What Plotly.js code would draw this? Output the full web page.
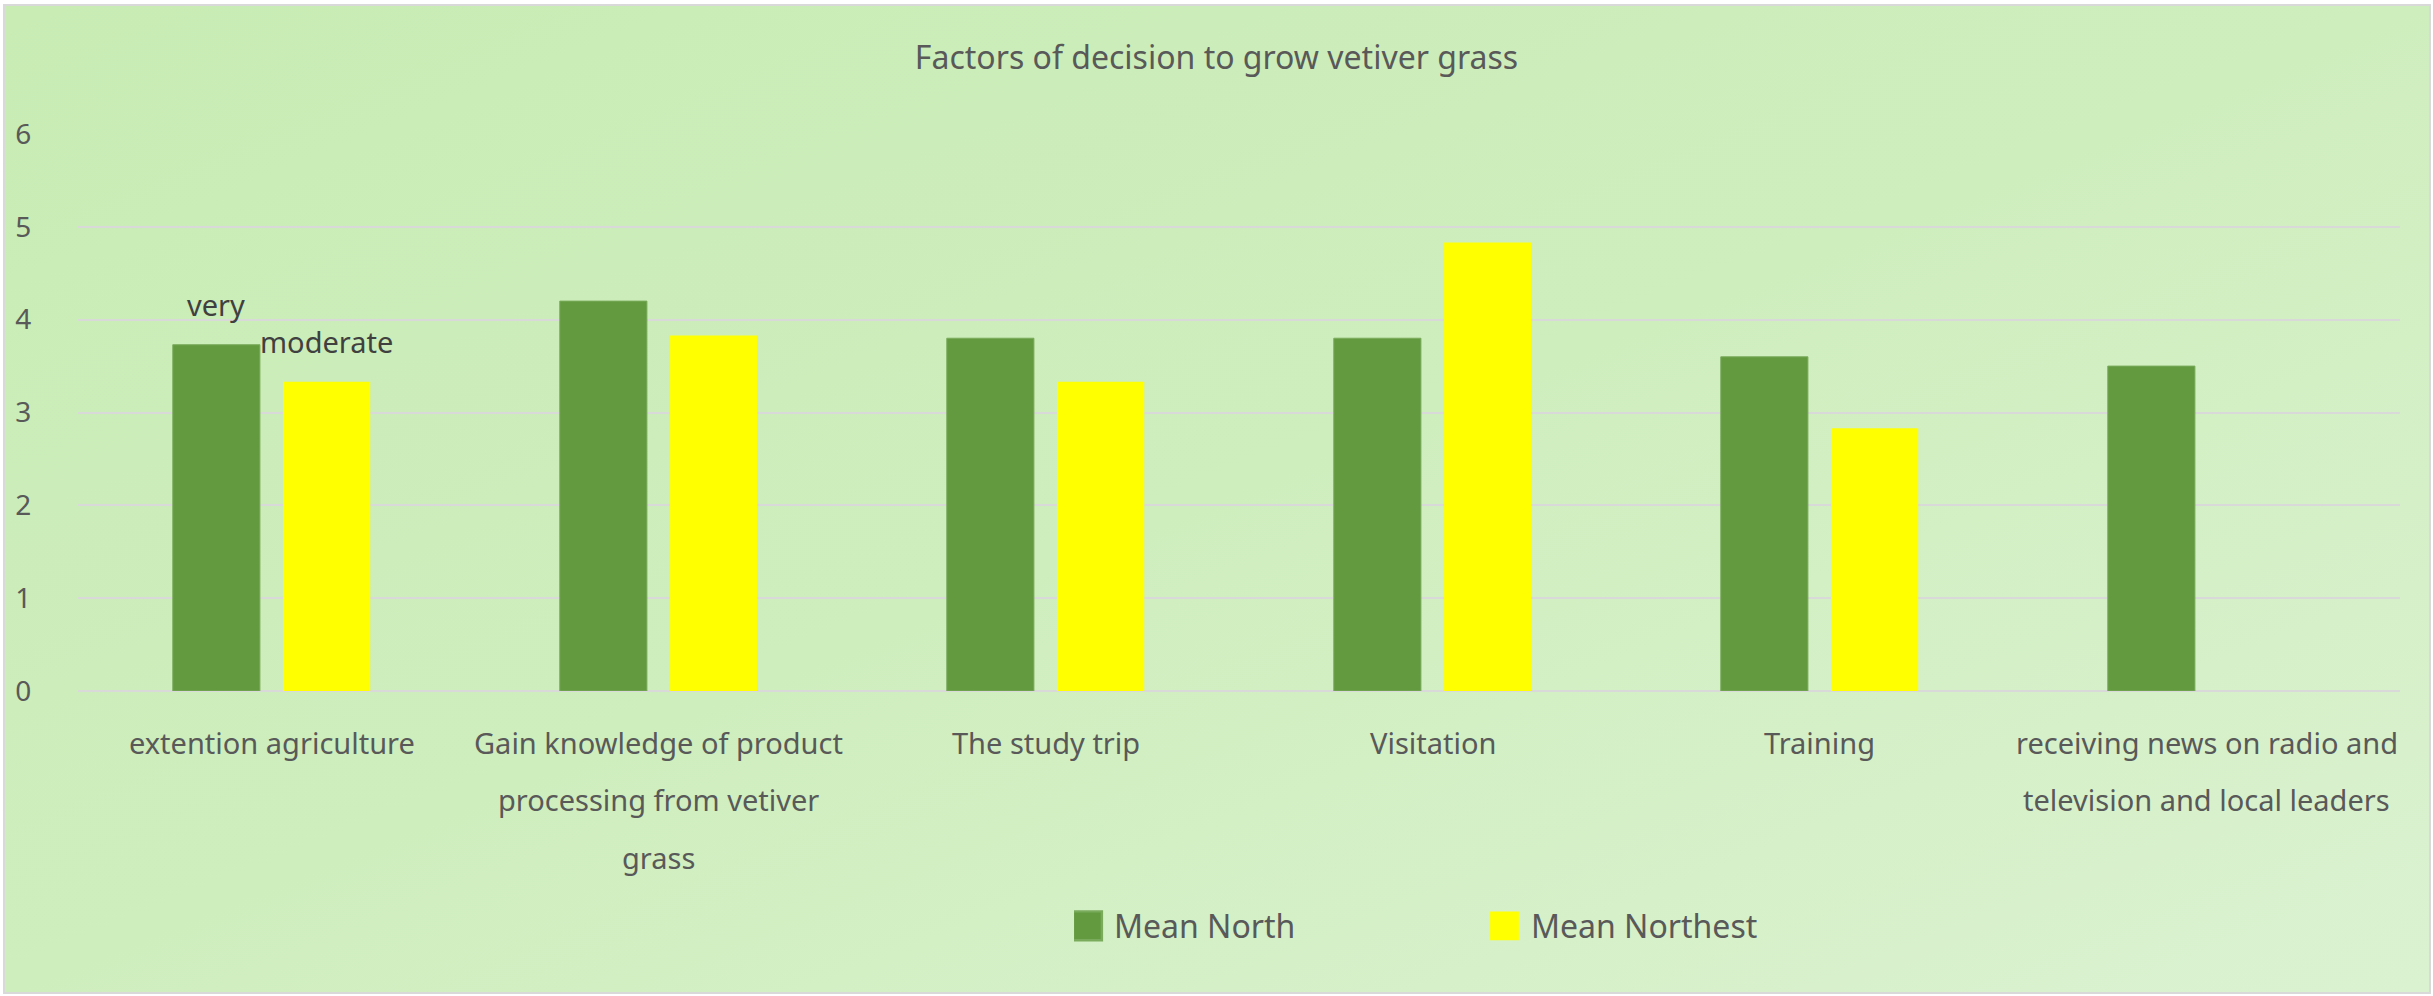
<!DOCTYPE html>
<html>
<head>
<meta charset="utf-8">
<script src="https://cdn.plot.ly/plotly-3.0.1.min.js"></script>
<style>
  html, body { margin: 0; padding: 0; background: #ffffff; }
  #frame {
    position: absolute; left: 3px; top: 4px; width: 2424px; height: 986px;
    border: 2px solid #d9d9d9;
    background: linear-gradient(to bottom right, #c8ecb4 0%, #cfeebe 50%, #dbf2d1 100%);
  }
  #chart { position: absolute; left: 0; top: 0; width: 2433px; height: 996px; }
</style>
</head>
<body>
<div id="frame"></div>
<div id="chart"></div>
<script>
// ---- data ----
const categories = [
  "extention agriculture",
  "Gain knowledge of product processing from vetiver grass",
  "The study trip",
  "Visitation",
  "Training",
  "receiving news on radio and television and local leaders"
];
const categoryLines = [
  ["extention agriculture"],
  ["Gain knowledge of product", "processing from vetiver", "grass"],
  ["The study trip"],
  ["Visitation"],
  ["Training"],
  ["receiving news on radio and", "television and local leaders"]
];
const meanNorth = [3.73, 4.20, 3.80, 3.80, 3.60, 3.50];
const meanNortheast = [3.33, 3.83, 3.33, 4.83, 2.83, null];
const northLabels = ["very", "", "", "", "", ""];
const northeastLabels = ["moderate", "", "", "", "", ""];
const seriesNames = ["Mean North", "Mean Northest"];
const yTicks = [0, 1, 2, 3, 4, 5, 6];

// ---- layout params ----
const W = 2433, H = 996;
const M = { l: 78, r: 33, t: 134, b: 305 };
const bargap = 0.43, bargroupgap = 0.21;
const catW = (W - M.l - M.r) / categories.length;
const slot = (1 - bargap) * catW / 2;
const textColor = "#595959";
const font = "Noto Sans, Open Sans, sans-serif";

const traces = [
  { type: "bar", name: seriesNames[0], x: categories, y: meanNorth,
    marker: { color: "#639a3f", line: { color: "#7aab5c", width: 1 } }, hoverinfo: "y" },
  { type: "bar", name: seriesNames[1], x: categories, y: meanNortheast,
    marker: { color: "#ffff00", line: { width: 0 } }, hoverinfo: "y" }
];

const annotations = [];
categoryLines.forEach((lines, i) => {
  lines.forEach((ln, j) => {
    annotations.push({
      x: categories[i], xref: "x", y: 0, yref: "paper",
      yanchor: "middle", xanchor: "center", yshift: -(51 + 57.5 * j),
      text: ln, showarrow: false,
      font: { family: font, size: 29, color: textColor }
    });
  });
});
function addBarLabels(labels, values, sign) {
  labels.forEach((t, i) => {
    if (!t) return;
    annotations.push({
      x: categories[i], xref: "x", y: values[i], yref: "y",
      xanchor: "center", yanchor: "bottom", xshift: sign * slot / 2, yshift: 19,
      text: t, showarrow: false,
      font: { family: font, size: 29, color: "#404040" }
    });
  });
}
addBarLabels(northLabels, meanNorth, -1);
addBarLabels(northeastLabels, meanNortheast, 1);

const layout = {
  width: W, height: H,
  margin: M,
  paper_bgcolor: "rgba(0,0,0,0)",
  plot_bgcolor: "rgba(0,0,0,0)",
  barmode: "group", bargap: bargap, bargroupgap: bargroupgap,
  font: { family: font, color: textColor },
  title: { text: "Factors of decision to grow vetiver grass",
           x: 0.5, xanchor: "center", y: 1 - 58 / H, yanchor: "middle",
           font: { family: font, size: 32, color: textColor } },
  xaxis: { type: "category", showticklabels: false, showgrid: false,
           zeroline: false, showline: false, ticks: "" },
  yaxis: { range: [0, 6], tickvals: yTicks, ticktext: yTicks.map(String),
           showgrid: true, gridcolor: "#d9d9d9", gridwidth: 2,
           zeroline: true, zerolinecolor: "#d9d9d9", zerolinewidth: 2,
           showline: false, ticks: "outside", ticklen: 40, tickcolor: "rgba(0,0,0,0)",
           tickfont: { family: font, size: 28, color: textColor } },
  showlegend: true,
  legend: { orientation: "h", xref: "container", yref: "container",
            x: 1074 / W, xanchor: "left", y: 1 - 926 / H, yanchor: "middle",
            entrywidthmode: "pixels", entrywidth: 372,
            bgcolor: "rgba(0,0,0,0)",
            font: { family: font, size: 32, color: textColor } },
  annotations: annotations
};

function fixLegend() {
  document.querySelectorAll("#chart .legend .legendpoints path").forEach(p => {
    p.setAttribute("transform", "translate(13.5,0) scale(2.4)");
  });
}

Plotly.newPlot("chart", traces, layout, { displayModeBar: false, staticPlot: true })
  .then(gd => { fixLegend(); gd.on("plotly_afterplot", fixLegend); setTimeout(fixLegend, 50); });
</script>
</body>
</html>
